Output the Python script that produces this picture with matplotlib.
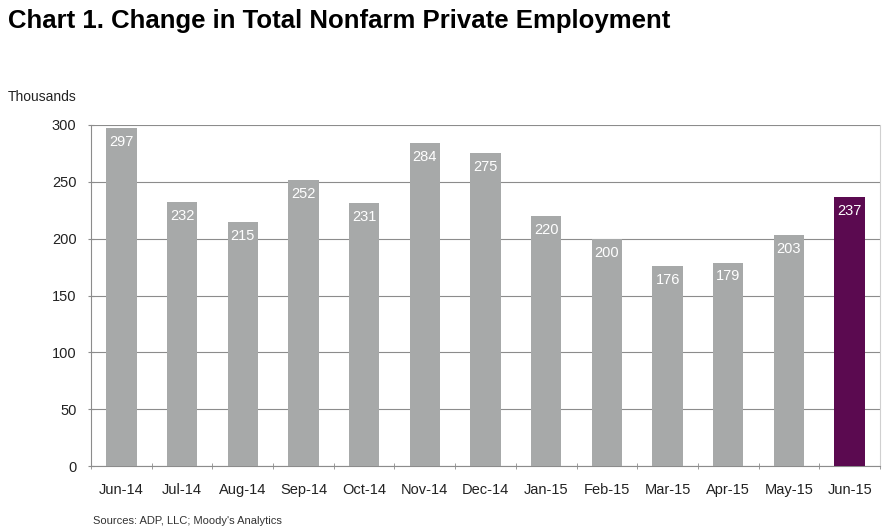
import matplotlib.pyplot as plt
import numpy as np

plt.rcParams['font.family'] = ['Liberation Sans', 'DejaVu Sans']

months = ['Jun-14', 'Jul-14', 'Aug-14', 'Sep-14', 'Oct-14', 'Nov-14', 'Dec-14',
          'Jan-15', 'Feb-15', 'Mar-15', 'Apr-15', 'May-15', 'Jun-15']
change = [297, 232, 215, 252, 231, 284, 275, 220, 200, 176, 179, 203, 237]

grey = '#a7a9a9'
purple = '#5b0a50'
colors = [grey] * (len(months) - 1) + [purple]

fig = plt.figure(figsize=(8.9, 5.32), dpi=100)
ax = fig.add_axes([91 / 890, 1 - 466 / 532, (880 - 91) / 890, (466 - 125) / 532])

x = np.arange(len(months))
bars = ax.bar(x, change, width=0.5, color=colors, zorder=3)

# value labels inside top of each bar
for xi, v in zip(x, change):
    ax.annotate(str(v), (xi, v), xytext=(0, -5), textcoords='offset points',
                ha='center', va='top', color='white', fontsize=10.5, zorder=4)

ax.set_xlim(-0.5, len(months) - 0.5)
ax.set_ylim(0, 300)
ax.set_yticks(range(0, 301, 50))
ax.set_xticks(x)
ax.set_xticklabels(months)
ax.set_xticks(np.arange(-0.5, len(months) - 0.5 + 0.01, 1), minor=True)

ax.grid(axis='y', color='#8c8c8c', linewidth=0.8, zorder=0)
ax.tick_params(axis='x', which='major', length=0, pad=12, labelsize=10.5, labelcolor='#222222')
ax.tick_params(axis='x', which='minor', length=5, direction='inout', color='#8c8c8c')
ax.tick_params(axis='y', length=5, direction='inout', color='#8c8c8c', pad=8,
               labelsize=10.5, labelcolor='#222222')

for s in ['left', 'bottom']:
    ax.spines[s].set_color('#8c8c8c')
ax.spines['top'].set_visible(False)
ax.spines['right'].set_color('#d0d0d0')

fig.text(8 / 890, 1 - 21 / 532, 'Chart 1. Change in Total Nonfarm Private Employment',
         fontsize=18.5, fontweight='bold', ha='left', va='center')
fig.text(8 / 890, 1 - 97 / 532, 'Thousands', fontsize=10, ha='left', va='center', color='#222222')
fig.text(93 / 890, 1 - 521 / 532, "Sources: ADP, LLC; Moody's Analytics", fontsize=8,
         ha='left', va='center', color='#333333')

fig.savefig('out.png', dpi=100)
